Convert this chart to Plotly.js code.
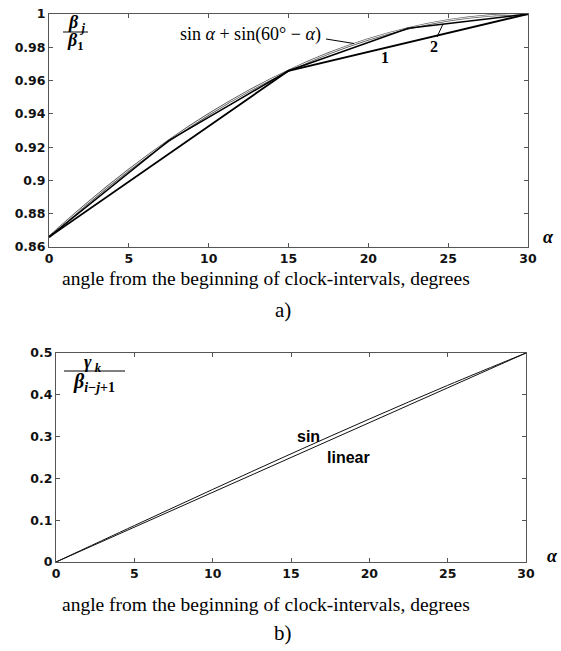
<!DOCTYPE html>
<html><head><meta charset="utf-8">
<script src="https://cdn.plot.ly/plotly-3.0.1.min.js"></script>
<style>html,body{margin:0;padding:0;background:#fff}#chart{width:561px;height:651px}</style>
</head><body><div id="chart"></div>
<script>
// ---- data ----
const alphaCurve = [0, 2.5, 5, 7.5, 10, 12.5, 15, 17.5, 20, 22.5, 25, 27.5, 30];
const curveVals  = [0.866, 0.887, 0.9063, 0.9239, 0.9397, 0.9537, 0.9659, 0.9763, 0.9848, 0.9914, 0.9962, 0.999, 1.0];
const alphaLine1 = [0, 15, 30];
const line1Vals  = [0.866, 0.9659, 1.0];
const alphaLine2 = [0, 7.5, 15, 22.5, 30];
const line2Vals  = [0.866, 0.9239, 0.9659, 0.9914, 1.0];
const alphaSin   = [0, 5, 10, 15, 20, 25, 30];
const sinVals    = [0, 0.0872, 0.1736, 0.2588, 0.342, 0.4226, 0.5];
const alphaLin   = [0, 30];
const linVals    = [0, 0.5];
const xTicks     = [0, 5, 10, 15, 20, 25, 30];
const yTicksA    = [0.86, 0.88, 0.9, 0.92, 0.94, 0.96, 0.98, 1];
const yTickTextA = ['0.86', '0.88', '0.9', '0.92', '0.94', '0.96', '0.98', '1'];
const yTicksB    = [0, 0.1, 0.2, 0.3, 0.4, 0.5];
const yTickTextB = ['0', '0.1', '0.2', '0.3', '0.4', '0.5'];
const xTitle = 'angle from the beginning of clock-intervals, degrees';

// ---- layout helpers ----
const W = 561, H = 651;
const px = x => x / W;
const py = y => 1 - y / H;

const tickFont = {family: 'DejaVu Sans, Arial, sans-serif', size: 12.5, color: '#111', weight: 'bold'};
function axisCommon(extra) {
  return Object.assign({
    showgrid: false, zeroline: false, showline: true, linecolor: '#555', linewidth: 1,
    mirror: 'ticks', ticks: 'inside', ticklen: 4, tickcolor: '#555', tickwidth: 1,
    tickfont: tickFont, fixedrange: true
  }, extra);
}

const traces = [
  {x: alphaCurve, y: curveVals, xaxis: 'x', yaxis: 'y', mode: 'lines', line: {color: '#555', width: 2.4, shape: 'spline'}, hoverinfo: 'skip'},
  {x: alphaCurve, y: curveVals, xaxis: 'x', yaxis: 'y', mode: 'lines', line: {color: '#fff', width: 0.9, shape: 'spline'}, hoverinfo: 'skip'},
  {x: alphaLine2, y: line2Vals, xaxis: 'x', yaxis: 'y', mode: 'lines', line: {color: '#000', width: 1.5}},
  {x: alphaLine1, y: line1Vals, xaxis: 'x', yaxis: 'y', mode: 'lines', line: {color: '#000', width: 1.8}},
  {x: alphaSin, y: sinVals, xaxis: 'x2', yaxis: 'y2', mode: 'lines', line: {color: '#111', width: 1, shape: 'spline'}},
  {x: alphaLin, y: linVals, xaxis: 'x2', yaxis: 'y2', mode: 'lines', line: {color: '#111', width: 1}}
];

const serif = 'Liberation Serif, Times New Roman, serif';
const sans = 'Liberation Sans, Arial, sans-serif';
function ann(x, y, text, font, extra) {
  return Object.assign({xref: 'paper', yref: 'paper', x: px(x), y: py(y), text: text, showarrow: false,
    xanchor: 'center', yanchor: 'middle', font: font}, extra || {});
}

const annotations = [
  // top chart
  ann(76, 24, '<i>β</i><sub> <i>j</i></sub>', {family: serif, size: 18, color: '#000', weight: 'bold'}),
  ann(75, 42, '<i>β</i><sub>1</sub>', {family: serif, size: 18, color: '#000', weight: 'bold'}),
  ann(250, 35, 'sin <i>α</i> + sin(60° − <i>α</i>)', {family: serif, size: 18, color: '#000'}),
  ann(385, 58, '1', {family: serif, size: 16, color: '#000', weight: 'bold'}),
  ann(434, 47, '2', {family: serif, size: 16, color: '#000', weight: 'bold'}),
  ann(548, 237, '<i>α</i>', {family: serif, size: 18, color: '#000', weight: 'bold'}),
  ann(266, 278, xTitle, {family: serif, size: 19.5, color: '#000'}),
  ann(283, 310, 'a)', {family: serif, size: 21, color: '#000'}),
  // bottom chart
  ann(93, 363, '<i>γ</i><sub> <i>k</i></sub>', {family: serif, size: 18, color: '#000', weight: 'bold'}),
  ann(94, 382, '<i>β</i><sub><i>i</i>−<i>j</i>+1</sub>', {family: serif, size: 20, color: '#000', weight: 'bold'}),
  ann(308, 436, 'sin', {family: sans, size: 16, color: '#000', weight: 'bold'}),
  ann(348, 457, 'linear', {family: sans, size: 16, color: '#000', weight: 'bold'}),
  ann(552, 556, '<i>α</i>', {family: serif, size: 18, color: '#000', weight: 'bold'}),
  ann(266, 604, xTitle, {family: serif, size: 19.5, color: '#000'}),
  ann(283, 633, 'b)', {family: serif, size: 21, color: '#000'})
];

const shapes = [
  {type: 'line', xref: 'paper', yref: 'paper', x0: px(63), x1: px(88), y0: py(32), y1: py(32), line: {color: '#000', width: 1}},
  {type: 'line', xref: 'paper', yref: 'paper', x0: px(64), x1: px(125), y0: py(371), y1: py(371), line: {color: '#000', width: 1}},
  {type: 'line', xref: 'paper', yref: 'paper', x0: px(326), x1: px(354), y0: py(39), y1: py(43.5), line: {color: '#000', width: 1}},
  {type: 'line', xref: 'paper', yref: 'paper', x0: px(437), x1: px(443), y0: py(37), y1: py(24), line: {color: '#000', width: 1}}
];

const layout = {
  width: W, height: H, margin: {l: 0, r: 0, t: 0, b: 0}, showlegend: false,
  paper_bgcolor: '#fff', plot_bgcolor: '#fff',
  xaxis: axisCommon({domain: [px(49), px(528)], range: [0, 30], tickvals: xTicks, anchor: 'y'}),
  yaxis: axisCommon({domain: [py(247), py(14)], range: [0.86, 1], tickvals: yTicksA, ticktext: yTickTextA, anchor: 'x'}),
  xaxis2: axisCommon({domain: [px(56), px(526)], range: [0, 30], tickvals: xTicks, anchor: 'y2'}),
  yaxis2: axisCommon({domain: [py(562), py(353)], range: [0, 0.5], tickvals: yTicksB, ticktext: yTickTextB, anchor: 'x2'}),
  annotations: annotations, shapes: shapes
};

Plotly.newPlot('chart', traces, layout, {displayModeBar: false, staticPlot: true});
</script></body></html>
